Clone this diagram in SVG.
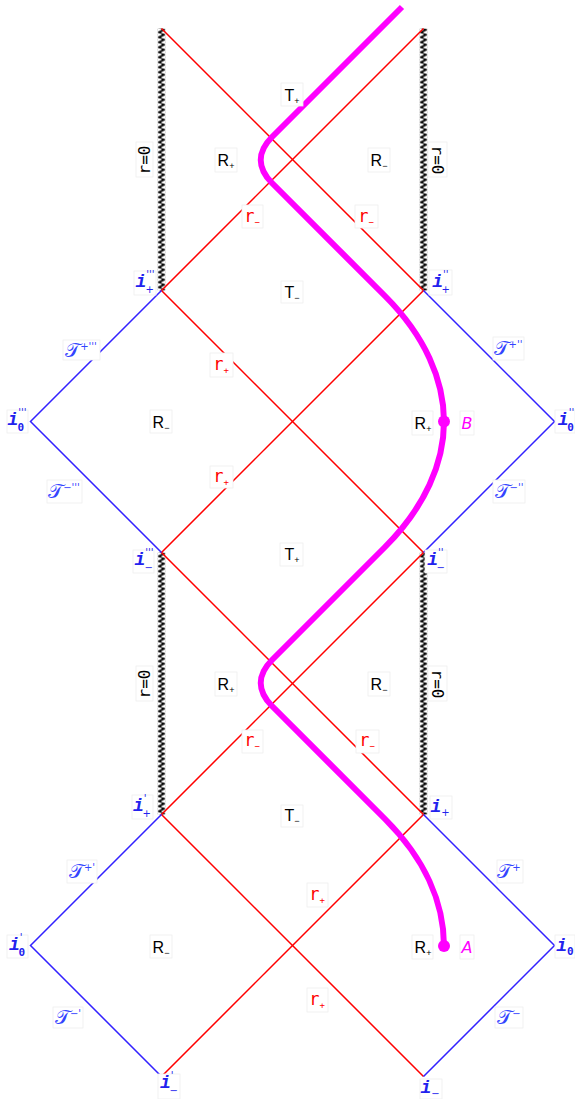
<svg xmlns="http://www.w3.org/2000/svg" width="575" height="1099" viewBox="0 0 575 1099">
<style>
.red{stroke:#ff0000;stroke-width:1.5;fill:none}
.blue{stroke:#3322ff;stroke-width:1.5;fill:none}
.mag{stroke:#ff00ff;stroke-width:6;fill:none;stroke-linecap:butt}
.box{fill:#ffffff;stroke:#eeeeee;stroke-width:0.8}
.reg{font-family:"Liberation Sans",Arial,sans-serif;font-size:16px;fill:#000;text-anchor:middle}
.rl{font-family:"DejaVu Sans Mono",monospace;font-size:17px;fill:#ff0000;text-anchor:middle}
.il{font-family:"Liberation Mono","DejaVu Sans Mono",monospace;font-style:italic;font-weight:bold;font-size:18px;fill:#2222ee;text-anchor:middle}
.sc{font-family:"DejaVu Sans",sans-serif;font-size:20px;fill:#3344ff;text-anchor:middle}
.r0{font-family:"DejaVu Sans Mono",monospace;font-size:16px;fill:#000;text-anchor:middle}
.pt{font-family:"DejaVu Sans",sans-serif;font-style:italic;font-size:16px;fill:#ff00ff;text-anchor:middle}
.sub{font-size:9px}
.sp{font-family:"DejaVu Sans",sans-serif;font-style:normal;font-weight:normal;font-size:10px}
.sb{font-family:"DejaVu Sans",sans-serif;font-style:normal;font-weight:normal;font-size:10px}
.z{font-family:"DejaVu Sans Mono",monospace;font-style:normal;font-weight:bold;font-size:11px}
</style>
<defs>
<pattern id="zig" patternUnits="userSpaceOnUse" x="-4" y="0" width="8" height="5">
<path d="M4,0 L6.3,1.25 L1.7,3.75 L4,5" stroke="#000" stroke-width="1.9" fill="none"/>
</pattern>
</defs>
<rect width="575" height="1099" fill="#ffffff"/>
<g id="connectors">
<g id="singularities">
<rect x="-4" y="0" width="8" height="262" fill="url(#zig)" transform="translate(161.5,28.5)"/>
<rect x="-4" y="0" width="8" height="262" fill="url(#zig)" transform="translate(423.5,28.5)"/>
<rect x="-4" y="0" width="8" height="262" fill="url(#zig)" transform="translate(161.5,552.5)"/>
<rect x="-4" y="0" width="8" height="262" fill="url(#zig)" transform="translate(423.5,552.5)"/>
</g>
<g id="horizons">
<polyline class="red" points="161.5,28.5 423.5,290.5 161.5,552.5 423.5,814.5 161.5,1076.5"/>
<polyline class="red" points="423.5,28.5 161.5,290.5 423.5,552.5 161.5,814.5 423.5,1076.5"/>
</g>
<g id="infinity">
<polyline class="blue" points="161.5,290.5 30.5,421.5 161.5,552.5"/>
<polyline class="blue" points="423.5,290.5 554.5,421.5 423.5,552.5"/>
<polyline class="blue" points="161.5,814.5 30.5,945.5 161.5,1076.5"/>
<polyline class="blue" points="423.5,814.5 554.5,945.5 423.5,1076.5"/>
</g>
<g id="worldline">
<path class="mag" d="M402,7 L272,137 C257,152 257,168 272,183 L385,296 C425,336 444,380 444,421.5 C444,463 425,507 385,547 L272,660 C257,675 257,691 272,706 L385,819 C425,859 444,903 444,946"/>
<circle cx="444" cy="421.5" r="6" fill="#ff00ff"/>
<circle cx="444" cy="946" r="6" fill="#ff00ff"/>
</g>
</g>

<g id="labels">
<!-- top block -->
<g id="Tp1"><rect class="box" x="281" y="83" width="22" height="23"/><text class="reg" x="292" y="101">T<tspan class="sub" dy="3">+</tspan></text></g>
<g id="Rp1"><rect class="box" x="215" y="148" width="22" height="24"/><text class="reg" x="226" y="166">R<tspan class="sub" dy="3">+</tspan></text></g>
<g id="Rm1"><rect class="box" x="368" y="148" width="22" height="24"/><text class="reg" x="379" y="166">R<tspan class="sub" dy="3">−</tspan></text></g>
<g id="rm1"><rect class="box" x="242" y="205" width="21" height="23"/><text class="rl" x="252" y="222">r<tspan class="sub" dy="3">−</tspan></text></g>
<g id="rm2"><rect class="box" x="355" y="205" width="23" height="23"/><text class="rl" x="366" y="222">r<tspan class="sub" dy="3">−</tspan></text></g>
<g id="r0a"><rect class="box" x="136" y="142" width="17" height="35"/><text class="r0" transform="translate(150,160) rotate(-90)">r=0</text></g>
<g id="r0b"><rect class="box" x="428" y="142" width="19" height="35"/><text class="r0" transform="translate(432,160) rotate(90)">r=0</text></g>
<g id="ip3"><rect class="box" x="134" y="271" width="22" height="24"/><text class="il" x="145" y="287">i<tspan class="sp" dy="-9">'''</tspan><tspan class="sb" dx="-9" dy="15">+</tspan></text></g>
<g id="ip2"><rect class="box" x="429" y="270" width="23" height="25"/><text class="il" x="441" y="287">i<tspan class="sp" dy="-9">''</tspan><tspan class="sb" dx="-7" dy="15">+</tspan></text></g>
<g id="Tm1"><rect class="box" x="281" y="281" width="22" height="22"/><text class="reg" x="292" y="298">T<tspan class="sub" dy="3">−</tspan></text></g>

<!-- middle block -->
<g id="scp3"><rect class="box" x="63" y="340" width="37" height="20"/><text class="sc" x="81" y="357">𝒯<tspan class="sp" dy="-7">+'''</tspan></text></g>
<g id="scm3"><rect class="box" x="47" y="480" width="35" height="23"/><text class="sc" x="64" y="498">𝒯<tspan class="sp" dy="-7">−'''</tspan></text></g>
<g id="i03"><rect class="box" x="7" y="410" width="21" height="23"/><text class="il" x="17" y="425">i<tspan class="sp" dy="-9">'''</tspan><tspan class="z" dx="-9" dy="15">0</tspan></text></g>
<g id="Rm2"><rect class="box" x="150" y="410" width="22" height="23"/><text class="reg" x="161" y="428">R<tspan class="sub" dy="3">−</tspan></text></g>
<g id="rp1"><rect class="box" x="210" y="353" width="23" height="24"/><text class="rl" x="221" y="370">r<tspan class="sub" dy="3">+</tspan></text></g>
<g id="rp2"><rect class="box" x="210" y="466" width="23" height="22"/><text class="rl" x="221" y="482">r<tspan class="sub" dy="3">+</tspan></text></g>
<g id="Rp2"><rect class="box" x="412" y="411" width="21" height="24"/><text class="reg" x="423" y="429">R<tspan class="sub" dy="3">+</tspan></text></g>
<g id="B"><rect class="box" x="460" y="411" width="14" height="24"/><text class="pt" x="467" y="429">B</text></g>
<g id="scp2"><rect class="box" x="493" y="337" width="31" height="23"/><text class="sc" x="508" y="355">𝒯<tspan class="sp" dy="-7">+''</tspan></text></g>
<g id="scm2"><rect class="box" x="493" y="480" width="32" height="23"/><text class="sc" x="509" y="498">𝒯<tspan class="sp" dy="-7">−''</tspan></text></g>
<g id="i02"><rect class="box" x="555" y="410" width="20" height="23"/><text class="il" x="566" y="425">i<tspan class="sp" dy="-9">''</tspan><tspan class="z" dx="-7" dy="15">0</tspan></text></g>
<g id="im3"><rect class="box" x="133" y="550" width="21" height="23"/><text class="il" x="144" y="565">i<tspan class="sp" dy="-9">'''</tspan><tspan class="sb" dx="-9" dy="15">−</tspan></text></g>
<g id="Tp2"><rect class="box" x="280" y="543" width="23" height="23"/><text class="reg" x="292" y="560">T<tspan class="sub" dy="3">+</tspan></text></g>
<g id="im2"><rect class="box" x="425" y="550" width="22" height="23"/><text class="il" x="436" y="565">i<tspan class="sp" dy="-9">''</tspan><tspan class="sb" dx="-7" dy="15">−</tspan></text></g>

<!-- lower block -->
<g id="r0c"><rect class="box" x="136" y="666" width="17" height="35"/><text class="r0" transform="translate(150,684) rotate(-90)">r=0</text></g>
<g id="r0d"><rect class="box" x="428" y="666" width="19" height="35"/><text class="r0" transform="translate(432,684) rotate(90)">r=0</text></g>
<g id="Rp3"><rect class="box" x="215" y="672" width="22" height="24"/><text class="reg" x="226" y="690">R<tspan class="sub" dy="3">+</tspan></text></g>
<g id="Rm3"><rect class="box" x="368" y="672" width="22" height="24"/><text class="reg" x="379" y="690">R<tspan class="sub" dy="3">−</tspan></text></g>
<g id="rm3"><rect class="box" x="242" y="730" width="21" height="23"/><text class="rl" x="252" y="746">r<tspan class="sub" dy="3">−</tspan></text></g>
<g id="rm4"><rect class="box" x="356" y="730" width="23" height="23"/><text class="rl" x="367" y="746">r<tspan class="sub" dy="3">−</tspan></text></g>
<g id="ip1"><rect class="box" x="132" y="795" width="21" height="24"/><text class="il" x="142" y="811">i<tspan class="sp" dy="-9">'</tspan><tspan class="sb" dx="-4" dy="15">+</tspan></text></g>
<g id="Tm2"><rect class="box" x="281" y="805" width="22" height="22"/><text class="reg" x="292" y="821">T<tspan class="sub" dy="3">−</tspan></text></g>
<g id="ip0"><rect class="box" x="430" y="796" width="22" height="23"/><text class="il" x="440" y="812">i<tspan class="sb" dy="4">+</tspan></text></g>

<!-- bottom block -->
<g id="scp1"><rect class="box" x="67" y="860" width="30" height="23"/><text class="sc" x="82" y="878">𝒯<tspan class="sp" dy="-7">+'</tspan></text></g>
<g id="scm1"><rect class="box" x="53" y="1007" width="30" height="21"/><text class="sc" x="68" y="1024">𝒯<tspan class="sp" dy="-7">−'</tspan></text></g>
<g id="i01"><rect class="box" x="7" y="935" width="21" height="23"/><text class="il" x="17" y="950">i<tspan class="sp" dy="-9">'</tspan><tspan class="z" dx="-4" dy="15">0</tspan></text></g>
<g id="Rm4"><rect class="box" x="150" y="935" width="22" height="23"/><text class="reg" x="161" y="953">R<tspan class="sub" dy="3">−</tspan></text></g>
<g id="rp3"><rect class="box" x="307" y="883" width="21" height="24"/><text class="rl" x="317" y="900">r<tspan class="sub" dy="3">+</tspan></text></g>
<g id="rp4"><rect class="box" x="307" y="988" width="21" height="24"/><text class="rl" x="317" y="1005">r<tspan class="sub" dy="3">+</tspan></text></g>
<g id="Rp4"><rect class="box" x="412" y="935" width="21" height="24"/><text class="reg" x="423" y="953">R<tspan class="sub" dy="3">+</tspan></text></g>
<g id="A"><rect class="box" x="460" y="935" width="14" height="24"/><text class="pt" x="467" y="953">A</text></g>
<g id="scp0"><rect class="box" x="497" y="860" width="26" height="23"/><text class="sc" x="509" y="878">𝒯<tspan class="sp" dy="-7">+</tspan></text></g>
<g id="scm0"><rect class="box" x="495" y="1007" width="28" height="21"/><text class="sc" x="509" y="1024">𝒯<tspan class="sp" dy="-7">−</tspan></text></g>
<g id="i00"><rect class="box" x="555" y="935" width="20" height="23"/><text class="il" x="565" y="951">i<tspan class="z" dy="4">0</tspan></text></g>
<g id="im1"><rect class="box" x="158" y="1074" width="22" height="25"/><text class="il" x="169" y="1088">i<tspan class="sp" dy="-9">'</tspan><tspan class="sb" dx="-4" dy="15">−</tspan></text></g>
<g id="im0"><rect class="box" x="420" y="1079" width="22" height="20"/><text class="il" x="430" y="1093">i<tspan class="sb" dy="4">−</tspan></text></g>
</g>
</svg>
